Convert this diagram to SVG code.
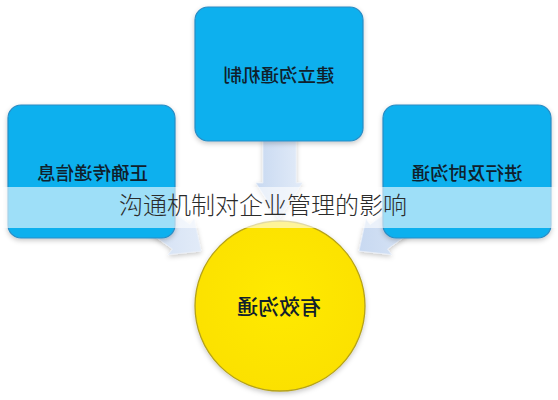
<svg xmlns="http://www.w3.org/2000/svg" width="558" height="400" viewBox="0 0 558 400">
  <defs>
    <style>
      .box { fill: #0fb0ee; stroke: #2a8cc4; stroke-width: 1.2; }
      .lbl { font-family: "Noto Sans CJK SC", "Noto Sans", sans-serif; font-size: 18.5px; font-weight: 500; fill: #10202c; text-anchor: middle; }
      .arrow { fill: url(#ag); stroke: #e8eff9; stroke-width: 0.8; }
      .title { font-family: "Noto Sans CJK SC", "Noto Sans", sans-serif; font-size: 24px; font-weight: 300; fill: #2b2b2b; text-anchor: middle; }
    </style>
    <linearGradient id="ag" x1="0" y1="0" x2="1" y2="0">
      <stop offset="0" stop-color="#c8d9f1"/>
      <stop offset="1" stop-color="#e2ebf8"/>
    </linearGradient>
    <radialGradient id="cg" cx="0.5" cy="0.45" r="0.6">
      <stop offset="0" stop-color="#ffea00"/>
      <stop offset="1" stop-color="#fbe000"/>
    </radialGradient>
    <filter id="sh" x="-20%" y="-20%" width="140%" height="140%">
      <feDropShadow dx="0" dy="2" stdDeviation="2.5" flood-color="#000" flood-opacity="0.22"/>
    </filter>
  </defs>
  <rect width="558" height="400" fill="#ffffff"/>
  <g id="connectors">
    <polygon class="arrow" filter="url(#sh)" points="263,120 296,120 296,183 302,183 279,219 256,183 263,183"/>
    <polygon class="arrow" filter="url(#sh)" points="111.3,205.2 172.5,249 168.4,254.6 201,251 194,219 189.9,224.6 128.7,180.8"/>
    <polygon class="arrow" filter="url(#sh)" points="448.7,205.2 387.5,249 391.6,254.6 359,251 366,219 370.1,224.6 431.3,180.8"/>
  </g>
  <g id="node-top">
    <rect class="box" filter="url(#sh)" x="195" y="7" width="168" height="134" rx="13"/>
    <text class="lbl" x="279" y="81.5" transform="matrix(-1 0 0 1 558 0)">建立沟通机制</text>
  </g>
  <g id="node-left">
    <rect class="box" filter="url(#sh)" x="8" y="105" width="167" height="133" rx="13"/>
    <text class="lbl" x="92.5" y="179.5" transform="matrix(-1 0 0 1 185 0)">正确传递信息</text>
  </g>
  <g id="node-right">
    <rect class="box" filter="url(#sh)" x="383" y="105" width="168" height="133" rx="13"/>
    <text class="lbl" x="467" y="179.5" transform="matrix(-1 0 0 1 934 0)">进行及时沟通</text>
  </g>
  <g id="node-center">
    <circle cx="280" cy="306" r="85" fill="url(#cg)" stroke="#b5a21a" stroke-width="1.3" filter="url(#sh)"/>
    <text class="lbl" x="279" y="314" style="font-size:21px" transform="matrix(-1 0 0 1 558 0)">有效沟通</text>
  </g>
  <g id="title-band">
    <rect x="0" y="187" width="558" height="41" fill="#ffffff" fill-opacity="0.6"/>
    <text class="title" x="263" y="214">沟通机制对企业管理的影响</text>
  </g>
</svg>
